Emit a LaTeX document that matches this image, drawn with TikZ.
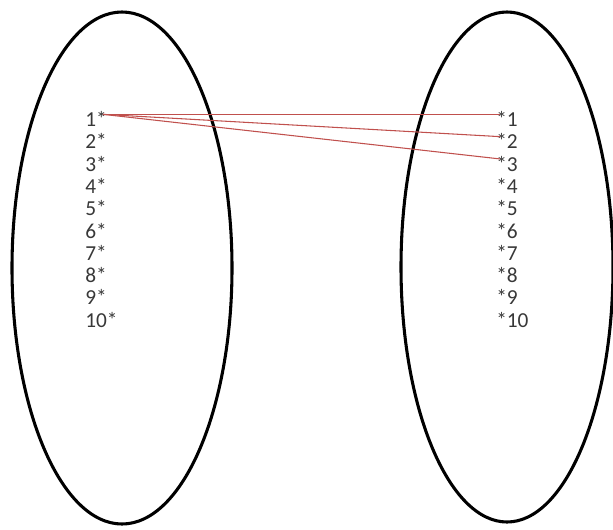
\documentclass[tikz,border=0pt]{standalone}
\usepackage{fontspec}
\setmainfont{Carlito}
\usetikzlibrary{positioning}
\definecolor{linkred}{RGB}{192,80,77}

\begin{document}
\begin{tikzpicture}[x=0.75pt, y=-0.75pt,
  setring/.style={draw, line width=2.3pt},
  elem/.style={font=\fontsize{16}{18}\selectfont, inner sep=0pt, text=black!78},
  link/.style={linkred, line width=0.8pt}]
  \useasboundingbox (0,0) rectangle (613,529);
  \draw[setring] (122,268) ellipse [x radius=110, y radius=256];
  \draw[setring] (507,267) ellipse [x radius=106, y radius=255];
  \foreach \i in {1,...,10} {
    \node[elem, anchor=west] (l\i) at (85,{119+22.3*(\i-1)}) {\i*};
    \node[elem, anchor=west] (r\i) at (496,{119+22.3*(\i-1)}) {*\i};
  }
  \draw[link] ([xshift=-3pt,yshift=3.5pt]l1.east) -- ([xshift=3pt,yshift=3.5pt]r1.west);
  \draw[link] ([xshift=-3pt,yshift=3.5pt]l1.east) -- ([xshift=3pt,yshift=3.5pt]r2.west);
  \draw[link] ([xshift=-3pt,yshift=3.5pt]l1.east) -- ([xshift=3pt,yshift=3.5pt]r3.west);
\end{tikzpicture}
\end{document}
